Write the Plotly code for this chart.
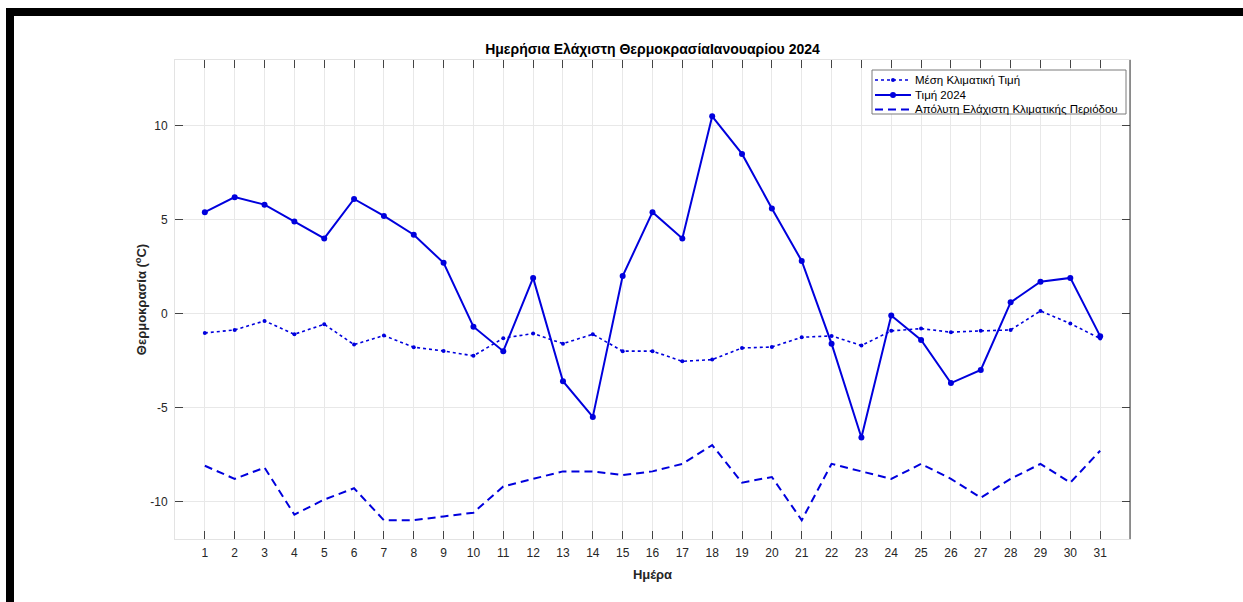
import plotly.graph_objects as go

days = list(range(1, 32))
mean_clim = [-1.03, -0.87, -0.39, -1.10, -0.57, -1.65, -1.17, -1.79, -1.99, -2.25,
             -1.31, -1.06, -1.60, -1.10, -2.00, -2.00, -2.54, -2.45, -1.83, -1.78,
             -1.26, -1.19, -1.70, -0.92, -0.80, -0.99, -0.92, -0.87, 0.14, -0.53, -1.33]
val_2024 = [5.4, 6.2, 5.8, 4.9, 4.0, 6.1, 5.2, 4.2, 2.7, -0.7,
            -2.0, 1.9, -3.6, -5.5, 2.0, 5.4, 4.0, 10.5, 8.5, 5.6,
            2.8, -1.6, -6.6, -0.1, -1.4, -3.7, -3.0, 0.6, 1.7, 1.9, -1.2]
abs_min = [-8.1, -8.8, -8.2, -10.7, -9.9, -9.3, -11.0, -11.0, -10.8, -10.6,
           -9.2, -8.8, -8.4, -8.4, -8.6, -8.4, -8.0, -7.0, -9.0, -8.7,
           -11.0, -8.0, -8.4, -8.8, -8.0, -8.8, -9.8, -8.8, -8.0, -9.0, -7.3]

names = ["Μέση Κλιματική Τιμή", "Τιμή 2024", "Απόλυτη Ελάχιστη Κλιματικής Περιόδου"]
title_text = "Ημερήσια Ελάχιστη ΘερμοκρασίαΙανουαρίου 2024"
xlabel = "Ημέρα"
ylabel = "Θερμοκρασία (<sup>o</sup>C)"
yticks = [-10, -5, 0, 5, 10]

BLUE = "#0000dd"
FONT = "Liberation Sans, Arial, sans-serif"
DASH = "8px,5px"
styles = [
    dict(line=dict(color=BLUE, width=1.6, dash="dot"), marker=dict(color=BLUE, size=4), mode="lines+markers"),
    dict(line=dict(color=BLUE, width=2), marker=dict(color=BLUE, size=6), mode="lines+markers"),
    dict(line=dict(color=BLUE, width=2, dash=DASH), mode="lines"),
]
series = [mean_clim, val_2024, abs_min]

fig = go.Figure()
for nm, ys, st in zip(names, series, styles):
    fig.add_trace(go.Scatter(x=days, y=ys, name=nm, showlegend=False, hoverinfo="skip", **st))

L, R, T, B = 175, 1130, 60, 539
W, H = 1243, 602
pw, ph = R - L, B - T


def px(xp):
    return (xp - L) / pw


def py(yp):
    return (B - yp) / ph


shapes = [
    # black frame pieces
    dict(type="rect", xref="paper", yref="paper", x0=px(6), x1=px(1250), y0=py(16), y1=py(8),
         fillcolor="black", line=dict(width=0), layer="above"),
    dict(type="rect", xref="paper", yref="paper", x0=px(6), x1=px(14), y0=py(610), y1=py(8),
         fillcolor="black", line=dict(width=0), layer="above"),
    # dark right border
    dict(type="line", xref="paper", yref="paper", x0=1, x1=1, y0=0, y1=1,
         line=dict(color="#333333", width=1), layer="above"),
    # legend box
    dict(type="rect", xref="paper", yref="paper", x0=px(872), x1=px(1126), y0=py(114), y1=py(70),
         fillcolor="white", line=dict(color="#7a7a7a", width=1), layer="above"),
]

annotations = []
rows = [80, 95, 109.5]
dash_styles = ["dot", "solid", DASH]
widths = [1.6, 2, 2]
msizes = [4, 6, 0]
for nm, yr, ds, lw, ms in zip(names, rows, dash_styles, widths, msizes):
    shapes.append(dict(type="line", xref="paper", yref="paper", x0=px(875), x1=px(911),
                       y0=py(yr), y1=py(yr), line=dict(color=BLUE, width=lw, dash=ds), layer="above"))
    if ms:
        r = ms / 2
        shapes.append(dict(type="circle", xref="paper", yref="paper",
                           x0=px(893 - r), x1=px(893 + r), y0=py(yr + r), y1=py(yr - r),
                           fillcolor=BLUE, line=dict(width=0), layer="above"))
    annotations.append(dict(xref="paper", yref="paper", x=px(913), y=py(yr), xanchor="left",
                            yanchor="middle", text=nm, showarrow=False,
                            font=dict(size=11.5, color="#000000", family=FONT)))

fig.update_layout(
    width=W, height=H,
    margin=dict(l=L, r=W - R, t=T, b=H - B),
    paper_bgcolor="white", plot_bgcolor="white",
    font=dict(family=FONT, size=12, color="#262626"),
    title=dict(text="<b>" + title_text + "</b>", x=(L + R) / 2 / W, xanchor="center",
               y=1 - 49 / H, yanchor="middle", font=dict(size=14, color="#000000")),
    showlegend=False,
    hovermode=False,
    shapes=shapes,
    annotations=annotations,
)

fig.update_xaxes(range=[0, 32], tickmode="array", tickvals=days, ticktext=[str(d) for d in days],
                 ticks="inside", ticklen=8, tickcolor="#444444", tickwidth=1,
                 showline=True, linecolor="#e3e3e3", linewidth=1, mirror="ticks",
                 showgrid=True, gridcolor="#e8e8e8", gridwidth=1, zeroline=False,
                 ticklabelstandoff=3,
                 tickfont=dict(size=12, color="#262626"),
                 title=dict(text="<b>" + xlabel + "</b>", font=dict(size=13, color="#262626"), standoff=10))
fig.update_yaxes(range=[-12, 13.5], tickmode="array", tickvals=yticks, ticktext=[str(v) for v in yticks],
                 ticks="inside", ticklen=8, tickcolor="#444444", tickwidth=1,
                 showline=True, linecolor="#e3e3e3", linewidth=1, mirror="ticks",
                 showgrid=True, gridcolor="#e8e8e8", gridwidth=1, zeroline=False,
                 ticklabelstandoff=4,
                 tickfont=dict(size=12, color="#262626"),
                 title=dict(text="<b>" + ylabel + "</b>", font=dict(size=13, color="#262626"), standoff=0))

fig.write_html("out.html", config={"displayModeBar": False, "staticPlot": True},
               post_script="document.body.style.margin='0';")
